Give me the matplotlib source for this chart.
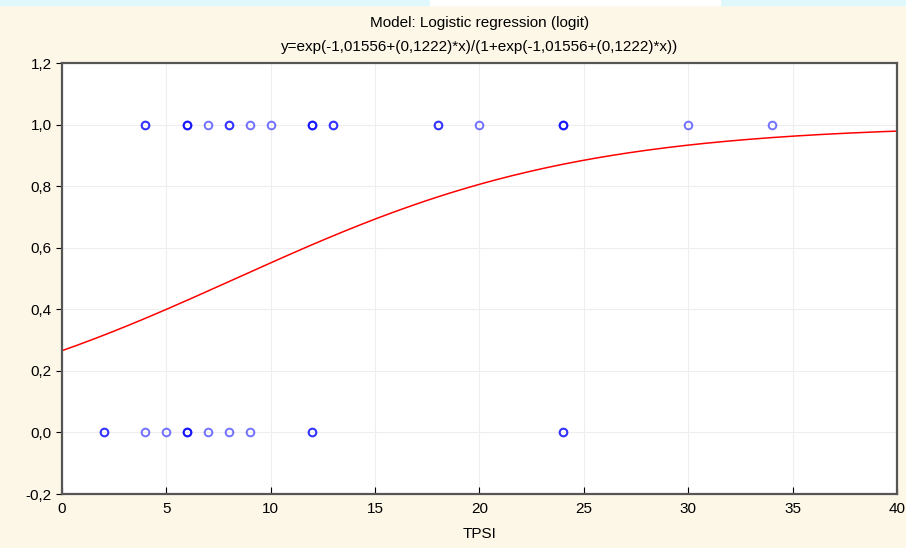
import matplotlib
matplotlib.use("Agg")
import matplotlib.pyplot as plt
import numpy as np
from matplotlib.patches import Rectangle

plt.rcParams['font.family'] = ['Liberation Sans', 'DejaVu Sans']

# observed TPSI values (repeats = overlapping points)
tpsi_1 = [4, 4, 6, 6, 6, 7, 8, 8, 9, 10, 12, 12, 12, 13, 13, 18, 18, 20, 24, 24, 24, 30, 34]
tpsi_0 = [2, 2, 4, 5, 6, 6, 6, 7, 8, 9, 12, 12, 24, 24]

b0 = -1.01556
b1 = 0.1222

xticks = [0, 5, 10, 15, 20, 25, 30, 35, 40]
yticks = [-0.2, 0.0, 0.2, 0.4, 0.6, 0.8, 1.0, 1.2]
ylabels = ["-0,2", "0,0", "0,2", "0,4", "0,6", "0,8", "1,0", "1,2"]

fig = plt.figure(figsize=(9.06, 5.48), dpi=100)
fig.patch.set_facecolor("#fdf7e8")
fig.patches.append(Rectangle((0, 0.99), 1, 0.01, transform=fig.transFigure,
                             color="#dff8fb", zorder=0))
fig.patches.append(Rectangle((0.475, 0.99), 0.32, 0.01, transform=fig.transFigure,
                             color="white", zorder=1))
ax = fig.add_axes([0.0684, 0.0985, 0.9216, 0.786])
ax.set_facecolor("white")

xs = np.linspace(0, 40, 300)
z = np.exp(b0 + b1 * xs)
ax.plot(xs, z / (1 + z), color="red", lw=1.1, zorder=2)

ax.plot(tpsi_1, [1.0] * len(tpsi_1), "o", ms=5.5, mfc="none", mec="blue",
        mew=1.4, alpha=0.55, zorder=3)
ax.plot(tpsi_0, [0.0] * len(tpsi_0), "o", ms=5.5, mfc="none", mec="blue",
        mew=1.4, alpha=0.55, zorder=3)

ax.set_xlim(0, 40)
ax.set_ylim(-0.2, 1.2)
ax.set_xticks(xticks)
ax.set_yticks(yticks)
ax.set_yticklabels(ylabels)
ax.grid(True, color="#eeeeee", lw=0.8)
ax.set_axisbelow(True)
for s in ax.spines.values():
    s.set_color("#555555")
    s.set_linewidth(1.6)
ax.tick_params(axis="x", direction="in", length=5, labelsize=11, pad=6)
ax.tick_params(axis="y", direction="out", length=4, labelsize=11)

ax.set_xlabel("TPSI", fontsize=11, labelpad=8)
ax.set_title("Model: Logistic regression (logit)\n"
             "y=exp(-1,01556+(0,1222)*x)/(1+exp(-1,01556+(0,1222)*x))",
             fontsize=11, linespacing=1.85, pad=9)

fig.savefig("out.png", dpi=100, facecolor=fig.get_facecolor())
